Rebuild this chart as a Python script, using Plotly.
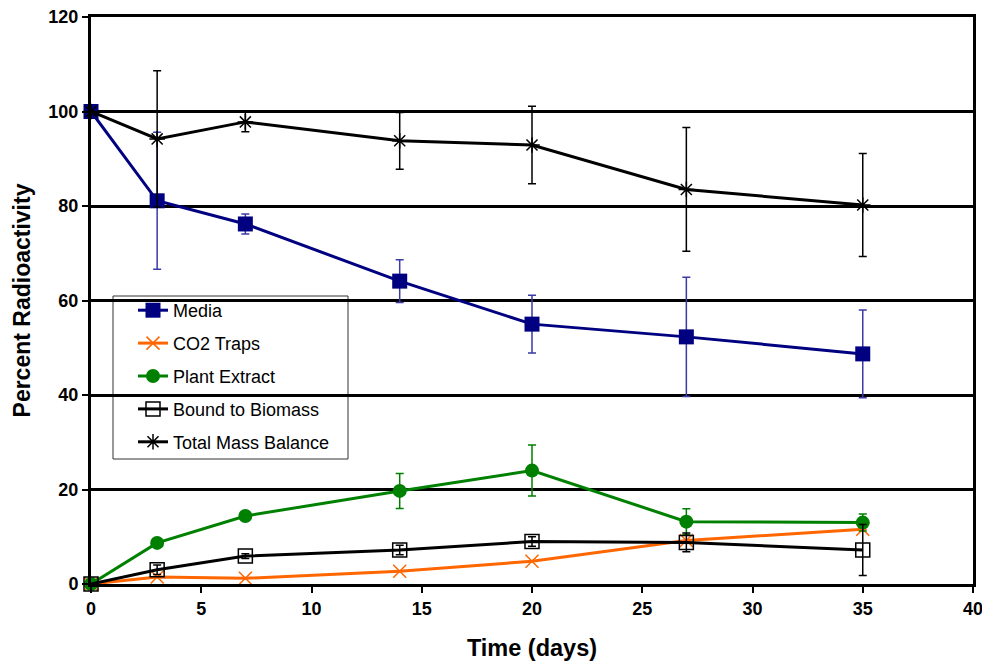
import plotly.graph_objects as go

days = [0, 3, 7, 14, 20, 27, 35]

media = [100, 81.1, 76.2, 64.1, 55.0, 52.3, 48.7]
media_err = [0, 14.5, 2.1, 4.5, 6.1, 12.6, 9.3]

co2 = [0, 1.5, 1.2, 2.7, 4.8, 9.2, 11.6]
co2_err = [0, 0, 0, 0, 0, 0, 0]

plant = [0, 8.7, 14.4, 19.7, 24.0, 13.2, 13.0]
plant_err = [0, 0, 0, 3.7, 5.4, 2.7, 1.8]

bound = [0, 3.0, 5.9, 7.2, 9.0, 8.8, 7.2]
bound_err = [0, 1.0, 0.5, 1.0, 1.0, 2.0, 5.4]

total = [100, 94.2, 97.8, 93.8, 92.9, 83.5, 80.2]
total_err = [0, 14.4, 2.1, 6.0, 8.2, 13.1, 10.9]

FONT = "Arial, Liberation Sans, sans-serif"

fig = go.Figure()

def add(name, y, err, color, errcolor, symbol, size, fill=None, mlw=0):
    fig.add_trace(go.Scatter(
        x=days, y=y, name=name, mode="lines+markers",
        line=dict(color=color, width=3),
        marker=dict(symbol=symbol, size=size, color=fill if fill else color,
                    line=dict(color=color, width=mlw)),
        error_y=dict(type="data", array=err, visible=True, color=errcolor,
                     thickness=1.5, width=4),
        cliponaxis=False, legendgroup=name,
    ))

add("Media", media, media_err, "#000080", "#3a3aa8", "square", 15)
add("CO2 Traps", co2, co2_err, "#FF6600", "#FF6600", "x-thin-open", 13, mlw=1.5)
add("Plant Extract", plant, plant_err, "#008000", "#008000", "circle", 14)
add("Bound to Biomass", bound, bound_err, "#000000", "#000000", "square-open", 14, mlw=1.5)
add("Total Mass Balance", total, total_err, "#000000", "#000000", "asterisk-open", 13, mlw=1.5)

# legend frame (box drawn as a shape so it can be wider than plotly's auto size)
fig.add_shape(type="rect", xref="paper", yref="paper",
              x0=(113 - 91) / 882, x1=(348 - 91) / 882,
              y0=(584 - 459) / 567, y1=(584 - 296) / 567,
              fillcolor="white", line=dict(color="#333333", width=1), layer="between")

fig.update_layout(
    width=982, height=661,
    paper_bgcolor="white", plot_bgcolor="white",
    margin=dict(l=91, r=9, t=17, b=77),
    font=dict(family=FONT, color="black", size=15),
    showlegend=True,
    legend=dict(
        x=(133 - 91) / 882, y=(584 - 292) / 567, xanchor="left", yanchor="top",
        bgcolor="rgba(0,0,0,0)", borderwidth=0,
        font=dict(family=FONT, size=18, color="black"),
        tracegroupgap=6.5,
    ),
    xaxis=dict(
        range=[0, 40], dtick=5, tick0=0, automargin=False,
        showgrid=False, zeroline=False, ticklabeloverflow="allow",
        showline=True, linecolor="black", linewidth=3, mirror=True,
        ticks="outside", ticklen=6, tickwidth=2, tickcolor="black",
        tickfont=dict(family=FONT, size=18, color="black", weight="bold"),
        title=dict(text="Time (days)", font=dict(family=FONT, size=23.5, color="black", weight="bold"), standoff=22),
    ),
    yaxis=dict(
        range=[0, 120], dtick=20, tick0=0, automargin=False,
        showgrid=True, gridcolor="black", gridwidth=2.5, zeroline=False,
        showline=True, linecolor="black", linewidth=3, mirror=True,
        ticks="outside", ticklen=6, tickwidth=2, tickcolor="black",
        tickfont=dict(family=FONT, size=18, color="black", weight="bold"),
        title=dict(text="Percent Radioactivity", font=dict(family=FONT, size=23, color="black", weight="bold"), standoff=12),
    ),
)

fig.write_html("out.html", config={"displayModeBar": False},
               post_script="document.body.style.margin='0';document.body.style.overflow='hidden';")
